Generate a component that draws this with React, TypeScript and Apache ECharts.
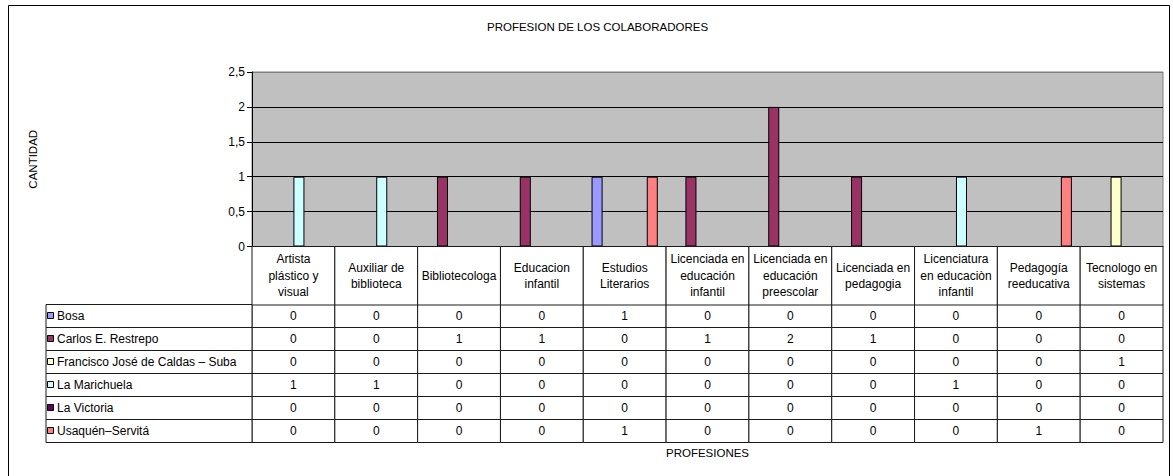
import { useEffect, useRef } from 'react';
import * as echarts from 'echarts';

const categories = [
  'Artista\nplástico y\nvisual',
  'Auxiliar de\nbiblioteca',
  'Bibliotecologa',
  'Educacion\ninfantil',
  'Estudios\nLiterarios',
  'Licenciada en\neducación\ninfantil',
  'Licenciada en\neducación\npreescolar',
  'Licenciada en\npedagogia',
  'Licenciatura\nen educaciòn\ninfantil',
  'Pedagogía\nreeducativa',
  'Tecnologo en\nsistemas',
];

const seriesNames = [
  'Bosa',
  'Carlos E. Restrepo',
  'Francisco José de Caldas – Suba',
  'La Marichuela',
  'La Victoria',
  'Usaquén–Servitá',
];

const bosa = [0, 0, 0, 0, 1, 0, 0, 0, 0, 0, 0];
const carlosRestrepo = [0, 0, 1, 1, 0, 1, 2, 1, 0, 0, 0];
const franciscoSuba = [0, 0, 0, 0, 0, 0, 0, 0, 0, 0, 1];
const laMarichuela = [1, 1, 0, 0, 0, 0, 0, 0, 1, 0, 0];
const laVictoria = [0, 0, 0, 0, 0, 0, 0, 0, 0, 0, 0];
const usaquenServita = [0, 0, 0, 0, 1, 0, 0, 0, 0, 1, 0];

const seriesValues = [bosa, carlosRestrepo, franciscoSuba, laMarichuela, laVictoria, usaquenServita];
const seriesColors = ['#9999FF', '#993366', '#FFFFCC', '#CCFFFF', '#660066', '#FF8080'];

const yMin = 0;
const yMax = 2.5;
const yInterval = 0.5;

const FONT = 'Liberation Sans, Arial, sans-serif';
const LINE = '#1a1a1a';

export default function App() {
  const ref = useRef<HTMLDivElement>(null);

  useEffect(() => {
    if (!ref.current) return;
    const chart = echarts.init(ref.current, null, { renderer: 'svg' });

    const barSeries = seriesNames.map((name, i) => ({
      type: 'bar',
      name,
      xAxisIndex: 0,
      yAxisIndex: 0,
      data: seriesValues[i].map((v) => (v === 0 ? null : v)),
      barGap: '0%',
      barCategoryGap: '20%',
      itemStyle: { color: seriesColors[i], borderColor: '#000', borderWidth: 1 },
      z: 3,
    }));

    const headerSeries = {
      type: 'custom',
      xAxisIndex: 0,
      yAxisIndex: 0,
      clip: false,
      silent: true,
      z: 4,
      data: categories.map((_, i) => [i, 0]),
      renderItem: (params: any, api: any) => {
        const p = api.coord([api.value(0), 0]);
        const w = api.size([1, 0])[0];
        const h = 58.5;
        return {
          type: 'group',
          children: [
            {
              type: 'rect',
              shape: { x: p[0] - w / 2, y: p[1], width: w, height: h },
              style: { fill: '#fff', stroke: LINE, lineWidth: 1 },
            },
            {
              type: 'text',
              style: {
                text: categories[params.dataIndex],
                x: p[0],
                y: p[1] + h / 2,
                align: 'center',
                verticalAlign: 'middle',
                fontFamily: FONT,
                fontSize: 12,
                lineHeight: 16.5,
                fill: '#000',
              },
            },
          ],
        };
      },
    };

    const cellData: number[][] = [];
    seriesValues.forEach((vals, r) => vals.forEach((v, c) => cellData.push([c, r, v])));

    const tableSeries = {
      type: 'custom',
      xAxisIndex: 1,
      yAxisIndex: 1,
      clip: false,
      silent: true,
      data: cellData,
      renderItem: (params: any, api: any) => {
        const p = api.coord([api.value(0), api.value(1)]);
        const s = api.size([1, 1]);
        return {
          type: 'group',
          children: [
            {
              type: 'rect',
              shape: { x: p[0] - s[0] / 2, y: p[1] - s[1] / 2, width: s[0], height: s[1] },
              style: { fill: '#fff', stroke: LINE, lineWidth: 1 },
            },
            {
              type: 'text',
              style: {
                text: String(api.value(2)),
                x: p[0],
                y: p[1],
                align: 'center',
                verticalAlign: 'middle',
                fontFamily: FONT,
                fontSize: 12,
                fill: '#000',
              },
            },
          ],
        };
      },
    };

    const legendSeries = {
      type: 'custom',
      xAxisIndex: 2,
      yAxisIndex: 2,
      clip: false,
      silent: true,
      data: seriesNames.map((_, r) => [0, r]),
      renderItem: (params: any, api: any) => {
        const r = params.dataIndex;
        const p = api.coord([0, api.value(1)]);
        const s = api.size([1, 1]);
        const left = p[0] - s[0] / 2;
        return {
          type: 'group',
          children: [
            {
              type: 'rect',
              shape: { x: left, y: p[1] - s[1] / 2, width: s[0], height: s[1] },
              style: { fill: '#fff', stroke: LINE, lineWidth: 1 },
            },
            {
              type: 'rect',
              shape: { x: Math.round(left) + 1.5, y: Math.round(p[1]) - 3.5, width: 6, height: 6 },
              style: { fill: seriesColors[r], stroke: '#000', lineWidth: 1 },
            },
            {
              type: 'text',
              style: {
                text: seriesNames[r],
                x: left + 11,
                y: p[1],
                align: 'left',
                verticalAlign: 'middle',
                fontFamily: FONT,
                fontSize: 12,
                fill: '#000',
              },
            },
          ],
        };
      },
    };

    chart.setOption({
      animation: false,
      backgroundColor: '#fff',
      textStyle: { fontFamily: FONT },
      title: {
        text: 'PROFESION DE LOS COLABORADORES',
        left: 482,
        top: 16,
        textStyle: { fontFamily: FONT, fontSize: 11.5, fontWeight: 'normal', color: '#000' },
      },
      graphic: [
        {
          type: 'rect',
          shape: { x: 8.5, y: 5.5, width: 1161, height: 480 },
          style: { fill: 'none', stroke: '#000', lineWidth: 1 },
          silent: true,
          z: -1,
        },
      ],
      grid: [
        {
          left: 252,
          top: 72,
          width: 911,
          height: 174.5,
          show: true,
          backgroundColor: '#C0C0C0',
          borderColor: '#808080',
          borderWidth: 1,
        },
        { left: 252, top: 304.5, width: 911, height: 138 },
        { left: 46, top: 304.5, width: 206, height: 138 },
      ],
      xAxis: [
        {
          type: 'category',
          gridIndex: 0,
          data: categories,
          axisLine: { show: true, lineStyle: { color: '#000', width: 1 } },
          axisTick: { show: false },
          axisLabel: { show: false },
          splitLine: { show: false },
          name: 'PROFESIONES',
          nameLocation: 'middle',
          nameGap: 200.5,
          nameTextStyle: { fontFamily: FONT, fontSize: 11.5, color: '#000' },
        },
        {
          type: 'category',
          gridIndex: 1,
          data: categories,
          show: false,
        },
        {
          type: 'category',
          gridIndex: 2,
          data: ['serie'],
          show: false,
        },
      ],
      yAxis: [
        {
          type: 'value',
          gridIndex: 0,
          min: yMin,
          max: yMax,
          interval: yInterval,
          axisLine: { show: true, lineStyle: { color: '#000', width: 1 } },
          axisTick: { show: true, length: 5, lineStyle: { color: '#000' } },
          axisLabel: {
            color: '#000',
            fontFamily: FONT,
            fontSize: 12,
            margin: 7,
            formatter: (v: number) => String(v).replace('.', ','),
          },
          splitLine: {
            show: true,
            lineStyle: { color: ['#000', '#000', '#000', '#000', '#000', '#808080'], width: 1 },
          },
          name: 'CANTIDAD',
          nameLocation: 'middle',
          nameRotate: 90,
          nameGap: 213,
          nameTextStyle: { fontFamily: FONT, fontSize: 11.5, color: '#000' },
        },
        {
          type: 'category',
          gridIndex: 1,
          data: seriesNames,
          inverse: true,
          show: false,
        },
        {
          type: 'category',
          gridIndex: 2,
          data: seriesNames,
          inverse: true,
          show: false,
        },
      ],
      series: [...barSeries, headerSeries, tableSeries, legendSeries],
    });

    return () => chart.dispose();
  }, []);

  return (
    <div
      ref={ref}
      style={{ position: 'fixed', left: 0, top: 0, width: 1173, height: 476 }}
    />
  );
}
